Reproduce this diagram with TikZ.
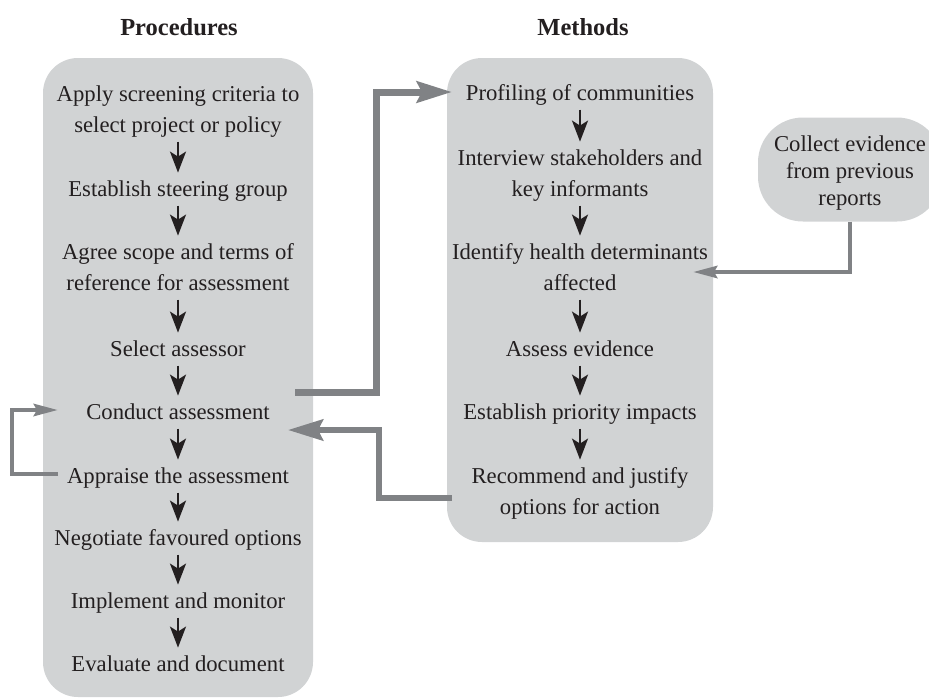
\documentclass[tikz,border=0pt]{standalone}
\usepackage{fontspec}
\setmainfont{Liberation Serif}
\usetikzlibrary{arrows.meta}
\definecolor{panelgray}{RGB}{209,211,212}
\definecolor{conngray}{RGB}{128,130,133}
\definecolor{ink}{RGB}{35,31,32}
\newcommand{\stacklines}[1]{\begin{tabular}[t]{@{}c@{}}#1\end{tabular}}
\begin{document}
\begin{tikzpicture}[x=1pt,y=-1pt,
  panel/.style={fill=panelgray, draw=none, rounded corners=35pt, inner sep=0pt},
  txt/.style={font=\fontsize{22.7}{31}\selectfont, text=ink, inner sep=0pt, anchor=base},
  ttl/.style={font=\fontsize{24.5}{29}\selectfont\bfseries, text=ink, inner sep=0pt, anchor=base},
  collect/.style={fill=panelgray, draw=none, rounded corners=45pt, minimum width=184pt,
    minimum height=104pt, inner sep=0pt, font=\fontsize{22.7}{27}\selectfont, text=ink, text depth=54pt},
  blk/.style={draw=ink, line width=2.3pt, -{Stealth[length=21pt,width=16pt,inset=5pt]}, shorten >=1.5pt},
  gbig/.style={draw=conngray, -{Stealth[length=35pt,width=21pt,inset=5pt]}},
  gsmall/.style={draw=conngray, line width=4.5pt, -{Stealth[length=24pt,width=12pt,inset=3pt]}},
]
\useasboundingbox (0,0) rectangle (929,697);

% panels
\node[panel, minimum width=270pt, minimum height=639pt] (proc) at (178,377.5) {};
\node[panel, minimum width=266pt, minimum height=484pt] (meth) at (580,300) {};
\node[collect] (coll) at (850,169.5) {\stacklines{Collect evidence\\from previous\\reports}};

% titles
\node[ttl] (tproc) at (179,35) {Procedures};
\node[ttl] (tmeth) at (583,35) {Methods};

% procedures
\node[txt] (p1) at (178,101) {\stacklines{Apply screening criteria to\\select project or policy}};
\node[txt] (p2) at (178,196) {\stacklines{Establish steering group}};
\node[txt] (p3) at (178,259) {\stacklines{Agree scope and terms of\\reference for assessment}};
\node[txt] (p4) at (178,356) {\stacklines{Select assessor}};
\node[txt] (p5) at (178,419) {\stacklines{Conduct assessment}};
\node[txt] (p6) at (178,483) {\stacklines{Appraise the assessment}};
\node[txt] (p7) at (178,545) {\stacklines{Negotiate favoured options}};
\node[txt] (p8) at (178,608) {\stacklines{Implement and monitor}};
\node[txt] (p9) at (178,671) {\stacklines{Evaluate and document}};

% methods
\node[txt] (m1) at (580,100) {\stacklines{Profiling of communities}};
\node[txt] (m2) at (580,165) {\stacklines{Interview stakeholders and\\key informants}};
\node[txt] (m3) at (580,259) {\stacklines{Identify health determinants\\affected}};
\node[txt] (m4) at (580,356) {\stacklines{Assess evidence}};
\node[txt] (m5) at (580,419) {\stacklines{Establish priority impacts}};
\node[txt] (m6) at (580,483) {\stacklines{Recommend and justify\\options for action}};

% black step arrows
\foreach \a/\b in {p1/p2,p2/p3,p3/p4,p4/p5,p5/p6,p6/p7,p7/p8,p8/p9,m1/m2,m2/m3,m3/m4,m4/m5,m5/m6}
  \draw[blk] (\a.south) -- (\b.north);

% grey connectors
\coordinate (g1s) at (295,392);
\coordinate (g1e) at (452,92);
\draw[gbig, line width=7pt] (g1s) -- (376,392) -- (376,92) -- (g1e);

\coordinate (g2s) at (452,498);
\coordinate (g2e) at (288,430);
\draw[gbig, line width=6pt] (g2s) -- (379,498) -- (379,430) -- (g2e);

\coordinate (g3e) at (693,272);
\draw[gsmall] (coll.south) -- (850,272) -- (g3e);

\coordinate (g4s) at (58,474);
\coordinate (g4e) at (58,410);
\draw[gsmall] (g4s) -- (12,474) -- (12,410) -- (g4e);
\end{tikzpicture}
\end{document}
